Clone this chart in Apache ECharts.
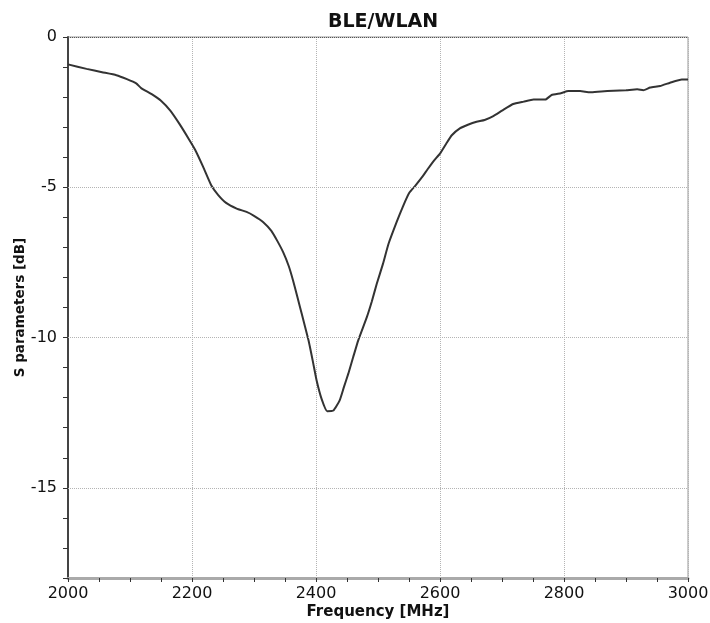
<!DOCTYPE html>
<html>
<head>
<meta charset="utf-8">
<script src="https://cdn.jsdelivr.net/npm/echarts@6/dist/echarts.min.js"></script>
<style>html,body{margin:0;padding:0;background:#fff;}#chart{width:710px;height:623px;}</style>
</head>
<body>
<div id="chart"></div>
<script>
const titleText = 'BLE/WLAN';
const xName = 'Frequency [MHz]';
const yName = 'S parameters [dB]';
const gridValues = [-5, -10, -15];
const freqMHz = [2000,2030,2055,2078,2095,2110,2118,2135,2150,2165,2180,2195,2205,2218,2231,2242,2255,2272,2288,2300,2315,2328,2338,2347,2356,2363,2370,2377,2388,2395,2401,2409,2418,2428,2438,2445,2452,2460,2468,2482,2490,2498,2508,2517,2530,2540,2550,2560,2571,2580,2590,2600,2610,2619,2632,2645,2659,2672,2686,2700,2718,2735,2751,2770,2780,2795,2807,2826,2842,2860,2880,2900,2918,2928,2939,2955,2971,2990,3000];
const sParamDB = [-0.91,-1.06,-1.17,-1.27,-1.40,-1.54,-1.70,-1.90,-2.12,-2.45,-2.90,-3.40,-3.75,-4.32,-4.93,-5.25,-5.52,-5.71,-5.82,-5.95,-6.16,-6.45,-6.80,-7.16,-7.62,-8.10,-8.65,-9.21,-10.10,-10.80,-11.43,-12.04,-12.45,-12.43,-12.10,-11.65,-11.21,-10.65,-10.10,-9.32,-8.80,-8.21,-7.55,-6.88,-6.16,-5.65,-5.20,-4.95,-4.66,-4.40,-4.12,-3.88,-3.55,-3.27,-3.04,-2.92,-2.82,-2.76,-2.63,-2.45,-2.23,-2.15,-2.08,-2.08,-1.93,-1.87,-1.80,-1.80,-1.84,-1.81,-1.79,-1.77,-1.74,-1.77,-1.68,-1.63,-1.52,-1.41,-1.41];

const font = 'DejaVu Sans, Verdana, sans-serif';
const chart = echarts.init(document.getElementById('chart'), null, {renderer: 'canvas'});
chart.setOption({
  animation: false,
  backgroundColor: '#fff',
  title: {
    text: titleText, left: 378, top: 8, textAlign: 'center',
    textStyle: {fontFamily: font, fontSize: 19, fontWeight: 'bold', color: '#111'}
  },
  grid: {left: 68, right: 22, top: 37, bottom: 45, containLabel: false, outerBoundsMode: 'none',
    show: true, borderColor: '#999', borderWidth: 1, backgroundColor: 'transparent'},
  xAxis: {
    type: 'value', min: 2000, max: 3000, interval: 200,
    name: xName, nameLocation: 'middle', nameGap: 27, nameMoveOverlap: false,
    nameTextStyle: {fontFamily: font, fontSize: 15, fontWeight: 'bold', color: '#111'},
    axisLine: {show: true, onZero: false, lineStyle: {color: '#aaa', width: 3}},
    axisTick: {show: true, length: 4, lineStyle: {color: '#333', width: 1}},
    minorTick: {show: true, splitNumber: 4, length: 4, lineStyle: {color: '#333', width: 1}},
    axisLabel: {fontFamily: font, fontSize: 16, color: '#111', margin: 8, formatter: v => String(v)},
    splitLine: {show: true, lineStyle: {color: '#b4b4b4', type: [1, 1], width: 1}}
  },
  yAxis: {
    type: 'value', min: -18, max: 0, interval: 1,
    name: yName, nameLocation: 'middle', nameGap: 41, nameRotate: 90, nameMoveOverlap: false,
    nameTextStyle: {fontFamily: font, fontSize: 13.5, fontWeight: 'bold', color: '#111'},
    axisLine: {show: true, onZero: false, lineStyle: {color: '#444', width: 2}},
    axisTick: {show: true, length: 5, lineStyle: {color: '#333', width: 1}},
    axisLabel: {fontFamily: font, fontSize: 16, color: '#111', margin: 11,
      formatter: v => (v % 5 === 0 ? String(v) : '')},
    splitLine: {show: false}
  },
  series: [{
    type: 'line', showSymbol: false, smooth: 0.15,
    data: freqMHz.map((f, i) => [f, sParamDB[i]]),
    lineStyle: {color: '#333', width: 2},
    markLine: {
      silent: true, symbol: 'none', label: {show: false},
      data: gridValues.map(v => ({yAxis: v, lineStyle: {color: '#b4b4b4', type: [1, 1], width: 1}}))
        .concat([{yAxis: 0, lineStyle: {color: '#555', type: [1, 1], width: 1}}])
    }
  }]
});
</script>
</body>
</html>
